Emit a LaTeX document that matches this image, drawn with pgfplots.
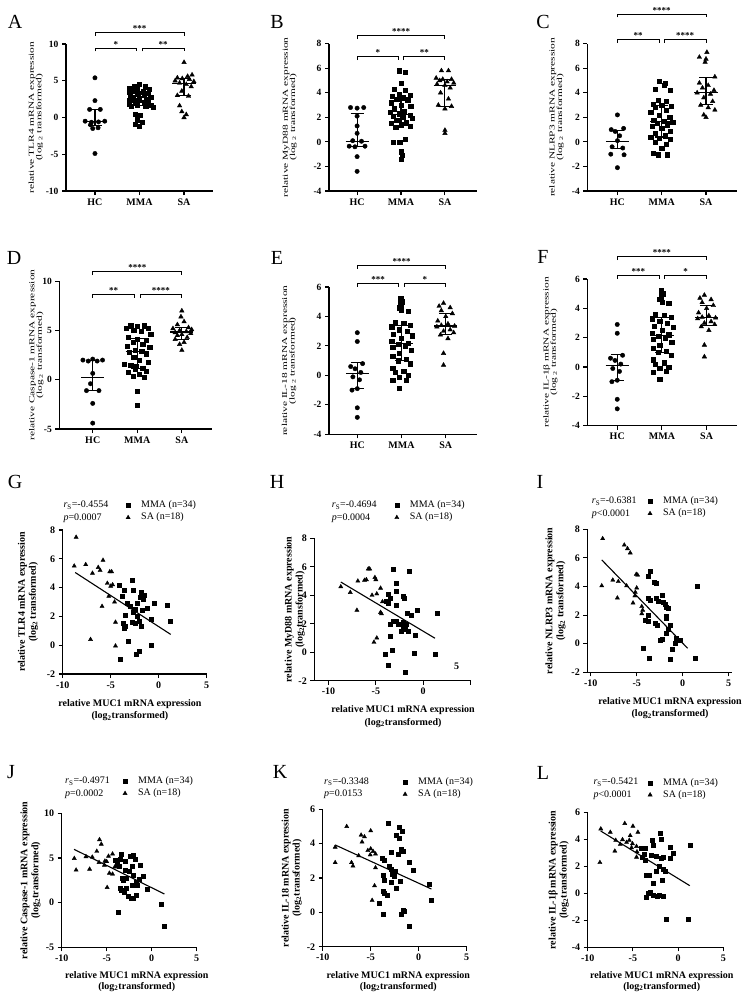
\documentclass[border=0pt]{standalone}
\usepackage{fontspec}
\setmainfont{Liberation Serif}
\usepackage{graphicx}
\usepackage{pgfplots}
\pgfplotsset{compat=1.18}

\newcommand{\iqr}[8]{\addplot[black,line width=1.1pt,no marks,unbounded coords=jump,forget plot] coordinates {(#1,#7)(#2,#7)(#4,nan)(#4,#6)(#4,#8)(#4,nan)(#3,#6)(#5,#6)(#4,nan)(#3,#8)(#5,#8)};}
\newcommand{\iqrHC}[3]{\iqr{0.74}{1.26}{0.85}{1}{1.15}{#1}{#2}{#3}}
\newcommand{\iqrMMA}[3]{\iqr{1.74}{2.26}{1.85}{2}{2.15}{#1}{#2}{#3}}
\newcommand{\iqrSA}[3]{\iqr{2.74}{3.26}{2.85}{3}{3.15}{#1}{#2}{#3}}
\newcommand{\sig}[5]{%
 \draw[line width=0.9pt] ([yshift=-3.5pt]axis cs:#1,#4) -- (axis cs:#1,#4) -- (axis cs:#2,#4) -- ([yshift=-3.5pt]axis cs:#2,#4);
 \node[above,inner sep=0.6pt,font=\bfseries\fontsize{9}{9}\selectfont] at (axis cs:#3,#4) {#5};}
\newcommand{\brackets}[5]{\sig{1}{1.94}{1.47}{#1}{#3}\sig{2.06}{3}{2.53}{#1}{#4}\sig{1}{3}{2}{#2}{#5}}
\newcommand{\dotlab}[1]{\scalebox{1.5}[1]{\fontsize{7.6}{7}\selectfont\begin{tabular}{@{}c@{}}relative #1 mRNA expression\\(log\,\textsubscript{2} transformed)\end{tabular}}}
\newcommand{\rsblock}[4]{\node[anchor=west,align=left,inner sep=0pt,font=\fontsize{10}{12.5}\selectfont] at (#1pt,-#2pt) {\textit{r}\textsubscript{S}=#3\\\textit{p}#4};}
\newcommand{\plab}[3]{\node[font=\fontsize{20}{20}\selectfont] at (#1pt,-#2pt) {#3};}

\pgfplotsset{
 common/.style={scale only axis, anchor=south west, axis lines=left,
  axis line style={line width=1.1pt,-}, tick style={line width=1.1pt,black},
  tick align=outside, major tick length=4pt, clip=false,
  /pgf/number format/assume math mode=true,
  ticklabel style={font=\bfseries\fontsize{9.5}{10}\selectfont}},
 dot/.style={common, xtick={1,2,3}, xticklabels={HC,MMA,SA},
  xticklabel style={font=\bfseries\fontsize{10}{10}\selectfont},
  ylabel style={anchor=center}},
 scat/.style={common, xtick={-10,-5,0,5},
  ticklabel style={font=\bfseries\fontsize{10}{10}\selectfont},
  legend cell align=left,
  legend image code/.code={\draw[##1] plot coordinates {(0pt,0pt)};},
  legend style={draw=none, fill=none, inner sep=0pt, outer sep=0pt, row sep=2.5pt, column sep=11pt,
   font=\fontsize{10}{10}\selectfont, nodes={inner sep=0pt, text height=7pt, text depth=2.5pt}, anchor=west},
  xlabel={relative MUC1 mRNA expression\\(log\textsubscript{2}transformed)},
  xlabel style={align=center, font=\bfseries\fontsize{10}{12.5}\selectfont, anchor=center},
  ylabel style={align=center, font=\bfseries\fontsize{10}{11}\selectfont, anchor=center}},
 hc/.style={only marks, mark=*, mark size=2.2, black},
 mma/.style={only marks, mark=square*, mark size=2.1, black},
 sa/.style={only marks, mark=triangle*, mark size=2.6, black},
 smma/.style={only marks, mark=square*, mark size=2, black},
 ssa/.style={only marks, mark=triangle*, mark size=2.4, black},
 reg/.style={black, line width=1.1pt, no marks, forget plot},
}

\begin{document}
\begin{tikzpicture}
\path[use as bounding box] (0,0) rectangle (744pt,-998pt);

% ---------------- A ----------------
\begin{axis}[dot, at={(66pt,-191pt)}, width=147pt, height=147pt, xmin=0.35, xmax=3.65, ymin=-10, ymax=10,
 ytick={-10,-5,0,5,10}, ylabel={\dotlab{TLR4}}, ylabel style={at={(axis description cs:-0.204,0.5)}}]
\addplot[hc] coordinates {(1.00,5.4)(1.00,2.3)(0.88,1.1)(1.12,1.1)(0.78,-0.5)(0.92,-0.65)(1.08,-0.6)(1.22,-0.5)(0.90,-1.0)(0.95,-1.5)(1.07,-1.4)(1.00,-4.9)};
\addplot[mma] coordinates {(2.00,4.5)(1.88,4.25)(2.12,4.2)(1.78,3.95)(1.95,3.85)(2.22,3.8)(1.85,3.6)(2.08,3.5)(1.76,3.4)(2.2,3.35)(1.96,3.2)(1.8,3.0)(2.1,3.05)(2.25,2.8)(1.86,2.7)(2.0,2.6)(2.15,2.5)(1.78,2.4)(1.98,2.3)(2.2,2.2)(1.9,2.0)(2.1,1.9)(1.76,1.8)(2.26,1.7)(1.95,1.65)(2.14,1.6)(1.82,1.5)(2.3,1.45)(1.9,0.5)(2.02,0.3)(1.95,-0.3)(2.06,-0.6)(1.9,-0.9)(2.0,-1.15)};
\addplot[sa] coordinates {(3.0,7.5)(3.18,5.8)(3.08,5.6)(2.85,5.4)(2.96,5.3)(3.12,5.2)(2.8,5.0)(3.22,4.9)(2.9,4.7)(3.05,4.5)(3.16,4.2)(2.95,3.6)(2.85,3.0)(3.1,2.9)(2.9,1.6)(2.95,0.8)(3.05,0.4)(3.0,0.0)};
\iqrHC{-1.1}{-0.6}{1.1}
\iqrMMA{1.6}{2.35}{3.5}
\iqrSA{2.95}{4.6}{5.3}
\brackets{9.46}{11.6}{*}{**}{***}
\end{axis}

% ---------------- B ----------------
\begin{axis}[dot, at={(329pt,-191pt)}, width=148pt, height=147.3pt, xmin=0.36, xmax=3.73, ymin=-4, ymax=8,
 ytick={-4,-2,0,2,4,6,8}, ylabel={\dotlab{MyD88}}, ylabel style={at={(axis description cs:-0.264,0.5)}}]
\addplot[hc] coordinates {(0.85,2.8)(1.0,2.75)(1.15,2.8)(1.0,2.1)(1.0,1.3)(1.0,0.7)(0.9,0.1)(1.1,0.05)(0.82,-0.35)(0.95,-0.4)(1.18,-0.35)(1.0,-1.2)(1.0,-2.4)};
\addplot[mma] coordinates {(1.95,5.8)(2.1,5.7)(2.0,4.8)(1.85,4.3)(2.1,4.2)(1.95,3.9)(2.2,3.8)(1.8,3.7)(2.05,3.6)(1.9,3.5)(2.15,3.4)(1.78,3.2)(2.0,3.0)(2.22,2.9)(1.85,2.7)(2.08,2.5)(1.75,2.4)(1.95,2.3)(2.2,2.2)(1.82,2.1)(2.05,2.0)(2.25,1.9)(1.9,1.8)(2.12,1.6)(1.78,1.5)(2.0,1.4)(2.2,1.3)(1.88,1.2)(2.1,0.2)(1.82,0.0)(1.97,-0.05)(2.0,-0.8)(2.02,-1.1)(2.0,-1.4)};
\addplot[sa] coordinates {(2.92,5.8)(3.08,5.8)(2.8,5.2)(2.95,5.1)(3.15,5.1)(2.88,5.0)(3.05,4.9)(3.2,4.8)(2.82,4.7)(3.0,4.6)(3.12,4.4)(2.9,4.0)(3.08,3.5)(2.85,3.0)(3.15,2.9)(3.0,2.7)(3.0,0.95)(3.0,0.7)};
\iqrHC{-0.35}{0.0}{2.3}
\iqrMMA{1.3}{2.2}{3.6}
\iqrSA{2.9}{4.6}{5.1}
\brackets{6.94}{8.65}{*}{**}{****}
\end{axis}

% ---------------- C ----------------
\begin{axis}[dot, at={(587.3pt,-191pt)}, width=149.7pt, height=147.3pt, xmin=0.32, xmax=3.7, ymin=-4, ymax=8,
 ytick={-4,-2,0,2,4,6,8}, ylabel={\dotlab{NLRP3}}, ylabel style={at={(axis description cs:-0.204,0.5)}}]
\addplot[hc] coordinates {(1.0,2.2)(0.86,1.0)(1.14,1.1)(0.95,0.85)(1.05,0.5)(1.0,0.1)(0.88,-0.4)(1.12,-0.5)(0.85,-1.0)(1.15,-1.05)(1.0,-2.1)};
\addplot[mma] coordinates {(1.95,4.95)(2.08,4.8)(2.05,4.6)(1.85,4.3)(2.2,4.2)(1.92,3.4)(2.1,3.3)(1.8,3.1)(2.0,3.0)(2.22,2.9)(1.85,2.8)(2.1,2.6)(1.75,2.4)(1.95,2.2)(2.18,2.0)(1.82,1.8)(2.05,1.7)(2.25,1.6)(1.9,1.55)(2.12,1.4)(1.78,1.3)(2.0,1.1)(2.2,0.9)(1.85,0.7)(2.08,0.5)(1.75,0.4)(1.95,0.3)(2.2,0.2)(1.85,0.0)(2.1,-0.2)(2.0,-0.5)(1.8,-0.95)(1.92,-1.05)(2.12,-1.05)};
\addplot[sa] coordinates {(3.02,7.3)(2.85,6.9)(3.0,6.75)(2.98,6.5)(3.2,5.3)(2.85,4.8)(3.05,4.6)(2.92,4.4)(3.18,4.2)(2.8,4.0)(3.1,3.9)(2.95,3.6)(3.15,3.3)(2.88,3.0)(3.05,2.8)(3.2,2.6)(2.95,2.2)(3.0,2.0)};
\iqrHC{-0.55}{0.05}{0.95}
\iqrMMA{0.4}{1.65}{2.95}
\iqrSA{3.05}{4.05}{5.25}
\brackets{8.36}{10.42}{**}{****}{****}
\end{axis}

% ---------------- D ----------------
\begin{axis}[dot, at={(59.3pt,-429pt)}, width=152.4pt, height=147.7pt, xmin=0.25, xmax=3.67, ymin=-5, ymax=10,
 ytick={-5,0,5,10}, ylabel={\dotlab{Caspase-1}}, ylabel style={at={(axis description cs:-0.15,0.5)}}]
\addplot[hc] coordinates {(0.78,2.0)(0.9,1.9)(1.0,2.1)(1.1,1.9)(1.22,2.0)(1.0,0.65)(0.95,-0.4)(0.86,-1.1)(1.14,-1.1)(1.0,-2.4)(1.0,-4.4)};
\addplot[mma] coordinates {(1.85,5.5)(2.0,5.4)(2.15,5.5)(1.75,5.2)(2.25,5.2)(1.92,5.0)(2.08,4.9)(2.3,4.6)(1.8,4.3)(2.0,4.15)(2.2,4.0)(1.9,3.8)(2.12,3.6)(1.78,3.4)(2.28,3.3)(1.95,3.0)(2.1,2.9)(1.82,2.8)(2.2,2.6)(1.7,1.6)(1.92,2.3)(2.05,2.0)(2.25,1.8)(1.85,1.5)(2.12,1.2)(1.95,1.1)(2.2,0.9)(1.8,0.8)(2.05,0.6)(1.9,0.4)(2.15,0.3)(2.0,-1.2)(2.0,-2.6)(1.98,1.35)};
\addplot[sa] coordinates {(3.0,7.0)(2.98,6.4)(3.05,5.9)(2.9,5.6)(3.15,5.3)(2.8,5.2)(3.22,5.1)(2.95,5.0)(3.1,4.9)(2.85,4.8)(3.2,4.7)(3.0,4.6)(2.9,4.5)(3.12,4.3)(2.85,4.1)(3.05,3.8)(2.95,3.6)(3.0,3.0)};
\iqrHC{-1.05}{0.2}{2.0}
\iqrMMA{1.15}{2.85}{4.15}
\iqrSA{4.05}{4.85}{5.3}
\brackets{8.68}{10.98}{**}{****}{****}
\end{axis}

% ---------------- E ----------------
\begin{axis}[dot, at={(329pt,-434.3pt)}, width=147.7pt, height=147.3pt, xmin=0.36, xmax=3.7, ymin=-4, ymax=6,
 ytick={-4,-2,0,2,4,6}, ylabel={\dotlab{IL-18}}, ylabel style={at={(axis description cs:-0.269,0.5)}}]
\addplot[hc] coordinates {(1.0,2.9)(1.0,2.3)(0.85,0.6)(1.12,0.8)(0.95,0.45)(1.08,0.2)(0.9,-0.1)(1.05,-0.3)(1.0,-0.9)(0.88,-1.0)(1.0,-2.2)(1.0,-2.85)};
\addplot[mma] coordinates {(1.98,5.2)(2.02,5.0)(1.98,4.8)(1.95,4.6)(2.0,4.4)(2.15,4.35)(1.85,3.6)(2.05,3.55)(2.2,3.4)(1.78,3.3)(1.95,3.1)(2.12,3.0)(1.82,2.8)(2.25,2.7)(2.0,2.5)(1.78,2.3)(2.15,2.2)(1.92,2.1)(2.08,2.0)(1.8,1.9)(2.22,1.7)(1.95,1.5)(1.8,1.3)(2.1,1.1)(1.92,1.0)(2.2,0.8)(1.8,0.5)(2.05,0.3)(1.85,0.2)(2.15,0.0)(1.95,-0.1)(2.1,-0.3)(1.8,-0.35)(1.95,-0.85)};
\addplot[sa] coordinates {(2.95,4.9)(2.85,4.7)(3.1,4.6)(2.9,4.4)(3.15,4.2)(3.0,4.0)(2.82,3.7)(3.05,3.5)(2.9,3.4)(3.2,3.35)(2.8,3.3)(3.1,3.1)(2.95,3.0)(3.18,2.9)(2.88,2.75)(3.05,2.5)(2.95,1.5)(2.95,0.7)};
\iqrHC{-0.9}{0.1}{0.85}
\iqrMMA{1.0}{2.15}{3.4}
\iqrSA{2.8}{3.35}{4.2}
\brackets{6.25}{7.49}{***}{*}{****}
\end{axis}

% ---------------- F ----------------
\begin{axis}[dot, at={(587.3pt,-425.7pt)}, width=149.7pt, height=146.7pt, xmin=0.33, xmax=3.68, ymin=-4, ymax=6,
 ytick={-4,-2,0,2,4,6}, ylabel={\dotlab{IL-1β}}, ylabel style={at={(axis description cs:-0.245,0.5)}}]
\addplot[hc] coordinates {(1.0,2.9)(1.0,2.3)(0.85,0.6)(1.12,0.8)(0.95,0.45)(1.08,0.2)(0.9,-0.1)(1.05,-0.3)(1.0,-0.9)(0.88,-1.0)(1.0,-2.2)(1.0,-2.85)};
\addplot[mma] coordinates {(1.98,5.2)(2.02,5.0)(1.98,4.8)(1.95,4.6)(2.0,4.4)(2.15,4.35)(1.85,3.6)(2.05,3.55)(2.2,3.4)(1.78,3.3)(1.95,3.1)(2.12,3.0)(1.82,2.8)(2.25,2.7)(2.0,2.5)(1.78,2.3)(2.15,2.2)(1.92,2.1)(2.08,2.0)(1.8,1.9)(2.22,1.7)(1.95,1.5)(1.8,1.3)(2.1,1.1)(1.92,1.0)(2.2,0.8)(1.8,0.5)(2.05,0.3)(1.85,0.2)(2.15,0.0)(1.95,-0.1)(2.1,-0.3)(1.8,-0.35)(1.95,-0.85)};
\addplot[sa] coordinates {(2.95,4.9)(2.85,4.7)(3.1,4.6)(2.9,4.4)(3.15,4.2)(3.0,4.0)(2.82,3.7)(3.05,3.5)(2.9,3.4)(3.2,3.35)(2.8,3.3)(3.1,3.1)(2.95,3.0)(3.18,2.9)(2.88,2.75)(3.05,2.5)(2.95,1.5)(2.95,0.7)};
\iqrHC{-0.9}{0.1}{0.85}
\iqrMMA{1.0}{2.15}{3.4}
\iqrSA{2.8}{3.35}{4.2}
\brackets{6.27}{7.52}{***}{*}{****}
\end{axis}

% ---------------- G ----------------
\begin{axis}[scat, at={(62.7pt,-674pt)}, width=144pt, height=144pt, xmin=-10, xmax=5, ymin=-2, ymax=8,
 ytick={-2,0,2,4,6,8}, ylabel={relative TLR4 mRNA expression\\(log\textsubscript{2} transformed)},
 ylabel style={at={(axis description cs:-0.241,0.5)}}, xlabel style={at={(axis description cs:0.467,-0.25)}},
 legend style={at={(axis description cs:0.44,1.128)}}]
\addplot[smma] coordinates {(-4.1,4.2)(-3.6,3.8)(-3.8,3.4)(-2.8,4.5)(-2.7,3.8)(-1.8,3.7)(-1.5,3.5)(-1.9,3.3)(-1.6,3.2)(-3.3,2.9)(-2.2,2.9)(-1.7,2.4)(-1.2,2.6)(-0.5,2.9)(0.9,2.8)(1.2,1.7)(-3.5,2.1)(-2.4,2.5)(-2.7,2.3)(-2.2,2.0)(-2.0,1.7)(-2.5,1.5)(-2.8,1.6)(-0.8,1.8)(-1.8,1.3)(-3.7,1.5)(-3.5,1.3)(-3.6,1.2)(-3.2,0.3)(-0.8,0.0)(-2.3,-0.6)(-2.0,-0.45)(-4.0,-1.0)(-3.0,2.7)};
\addlegendentry{MMA (n=34)}
\addplot[ssa] coordinates {(-8.6,7.5)(-8.8,5.5)(-7.6,5.6)(-5.8,5.9)(-6.3,5.4)(-6.1,5.2)(-6.9,5.0)(-5.1,5.1)(-4.9,5.1)(-5.35,4.3)(-5.0,4.1)(-4.8,4.2)(-5.2,3.4)(-4.6,3.0)(-5.9,2.7)(-4.5,1.6)(-4.5,-0.05)(-7.1,0.4)};
\addlegendentry{SA (n=18)}
\addplot[reg] coordinates {(-8.7,5.05)(1.25,0.75)};
\end{axis}

% ---------------- H ----------------
\begin{axis}[scat, at={(314.3pt,-680.7pt)}, width=156.2pt, height=142.4pt, xmin=-11.5, xmax=5, ymin=-2, ymax=8,
 xticklabels={{-10},{-5},{0},{}},
 ytick={-2,0,2,4,6,8}, ylabel={relative MyD88 mRNA expression\\(log\textsubscript{2}transformed)},
 ylabel style={at={(axis description cs:-0.125,0.5)}}, xlabel style={at={(axis description cs:0.568,-0.253)}},
 legend style={at={(axis description cs:0.515,1.188)}}]
\addplot[smma] coordinates {(-3.14,5.82)(-1.46,5.7)(-2.8,4.84)(-2.8,4.3)(-3.67,4.09)(-3.5,3.8)(-3.67,3.44)(-2.8,3.27)(-2.16,3.9)(-2.0,3.78)(-0.58,2.97)(-1.74,2.73)(-1.3,2.6)(-2.8,2.2)(-3.5,1.96)(-2.37,1.98)(-1.8,1.98)(-2.16,1.6)(-1.6,1.5)(-2.37,1.47)(-0.79,1.2)(-3.5,1.14)(-3.3,0.15)(-4.0,-0.13)(-0.93,-0.08)(1.25,-0.15)(1.53,2.73)(-3.67,-0.9)(-1.9,-1.37)(-3.9,3.6)(-3.2,2.2)(-2.6,2.0)(-1.9,1.8)(-2.1,2.1)};
\addlegendentry{MMA (n=34)}
\addplot[ssa] coordinates {(-8.7,4.6)(-7.7,4.2)(-7.0,2.95)(-6.9,5.0)(-6.2,5.05)(-6.0,5.1)(-5.8,5.85)(-5.65,5.85)(-5.1,5.25)(-5.0,5.1)(-5.4,4.0)(-4.9,4.1)(-4.5,4.5)(-4.5,2.8)(-4.4,2.7)(-5.2,0.7)(-4.9,1.0)(-4.3,3.55)};
\addlegendentry{SA (n=18)}
\addplot[reg] coordinates {(-8.7,4.93)(1.25,0.98)};
\end{axis}
\node[font=\bfseries\fontsize{10}{10}\selectfont] at (456.7pt,-666.7pt) {5};

% ---------------- I ----------------
\begin{axis}[scat, at={(587.3pt,-672.3pt)}, width=144.4pt, height=143pt, xmin=-10.37, xmax=5.33, ymin=-2, ymax=8,
 ytick={-2,0,2,4,6,8}, ylabel={relative NLRP3 mRNA expression\\(log\textsubscript{2} transformed)},
 ylabel style={at={(axis description cs:-0.22,0.5)}}, xlabel style={at={(axis description cs:0.573,-0.252)}},
 legend style={at={(axis description cs:0.42,1.152)}}]
\addplot[smma] coordinates {(-3.48,5.04)(-3.73,4.69)(-3.12,4.27)(-2.83,4.22)(-3.73,3.17)(-3.55,3.05)(-2.83,3.17)(-2.65,2.99)(-2.28,3.41)(-2.17,2.87)(-1.92,2.76)(-1.74,2.52)(-1.56,2.48)(-1.81,1.94)(-1.74,1.78)(-3.73,2.0)(-4.1,1.61)(-3.73,1.54)(-3.0,1.43)(-2.75,1.31)(-1.38,1.26)(-1.56,1.0)(-1.81,0.73)(-2.28,0.31)(-2.46,0.26)(-0.72,0.38)(-0.29,0.26)(-0.83,0.07)(-1.1,-0.4)(-4.28,-0.28)(-3.62,-0.98)(-1.38,-1.09)(1.34,-1.02)(1.6,4.04)};
\addlegendentry{MMA (n=34)}
\addplot[ssa] coordinates {(-8.7,7.35)(-6.35,6.9)(-6.0,6.65)(-5.7,6.35)(-8.8,4.05)(-7.6,4.45)(-7.0,4.35)(-7.1,3.2)(-6.1,4.05)(-5.05,4.85)(-4.9,4.8)(-5.0,3.9)(-5.2,3.35)(-5.4,2.85)(-4.45,2.6)(-4.45,2.1)(-5.15,3.6)(-4.35,2.35)};
\addlegendentry{SA (n=18)}
\addplot[reg] coordinates {(-8.8,5.86)(0.54,-0.32)};
\end{axis}

% ---------------- J ----------------
\begin{axis}[scat, at={(61.7pt,-947.3pt)}, width=135pt, height=134pt, xmin=-10, xmax=5, ymin=-5, ymax=10,
 ytick={-5,0,5,10}, ylabel={relative Caspase-1 mRNA expression\\(log\textsubscript{2}transformed)},
 ylabel style={at={(axis description cs:-0.231,0.5)}}, xlabel style={at={(axis description cs:0.556,-0.254)}, font=\bfseries\fontsize{10}{11}\selectfont},
 legend style={at={(axis description cs:0.454,1.193)}}]
\addplot[smma] coordinates {(-3.44,5.45)(-4.07,4.78)(-3.81,4.33)(-3.6,4.1)(-3.52,4.85)(-2.41,5.22)(-2.11,5.34)(-1.85,4.85)(-2.22,4.03)(-1.3,4.22)(-3.0,3.66)(-2.8,2.72)(-3.33,2.72)(-0.93,2.99)(-1.74,2.24)(-1.59,1.9)(-2.78,1.6)(-3.52,1.6)(-3.44,1.34)(-3.07,1.12)(-0.48,1.49)(-1.67,0.86)(-2.59,0.67)(-2.11,0.49)(-2.3,0.5)(1.11,-0.15)(-3.7,-1.12)(1.41,-2.61)(-2.48,3.47)(-2.04,3.1)(-2.96,4.59)(-1.37,2.61)(-2.22,1.98)(-3.15,2.46)};
\addlegendentry{MMA (n=34)}
\addplot[ssa] coordinates {(-5.8,7.05)(-5.6,6.55)(-6.1,5.75)(-7.3,5.15)(-8.6,4.95)(-8.4,3.65)(-6.9,3.75)(-6.6,5.1)(-5.85,4.5)(-5.25,4.2)(-5.0,4.6)(-4.8,5.2)(-4.35,5.45)(-4.7,3.3)(-4.95,1.7)(-4.1,4.0)(-4.35,3.2)(-5.2,4.65)};
\addlegendentry{SA (n=18)}
\addplot[reg] coordinates {(-8.63,5.97)(1.41,0.97)};
\end{axis}

% ---------------- K ----------------
\begin{axis}[scat, at={(322.7pt,-946.7pt)}, width=144pt, height=137.4pt, xmin=-10, xmax=5, ymin=-2, ymax=6,
 ytick={-2,0,2,4,6}, ylabel={relative IL-18 mRNA expression\\(log\textsubscript{2}transformed)},
 ylabel style={at={(axis description cs:-0.215,0.5)}}, xlabel style={at={(axis description cs:0.525,-0.253)}, font=\bfseries\fontsize{10}{11}\selectfont},
 legend style={at={(axis description cs:0.558,1.153)}}]
\addplot[smma] coordinates {(-3.2,5.18)(-2.06,4.93)(-1.71,4.74)(-2.33,4.47)(-1.99,4.31)(-1.81,3.67)(-1.57,3.59)(-2.16,3.38)(-2.86,3.53)(-3.8,3.15)(-3.55,3.01)(-3.1,2.66)(-2.86,2.52)(-2.4,2.37)(-1.01,2.95)(-0.59,2.43)(-2.51,2.08)(-1.92,1.83)(-3.73,2.17)(-3.55,1.88)(-2.86,1.75)(-2.33,1.4)(-3.73,1.26)(-3.55,1.11)(-3.28,1.01)(-4.08,0.56)(1.08,1.63)(1.32,0.72)(-3.73,-0.1)(-1.64,0.1)(-1.46,0.05)(-1.85,-0.12)(-1.01,-0.83)(-2.75,2.25)};
\addlegendentry{MMA (n=34)}
\addplot[ssa] coordinates {(-7.5,5.0)(-8.7,3.8)(-8.7,2.9)(-7.0,2.9)(-6.85,2.7)(-6.0,4.5)(-5.65,4.4)(-5.9,4.1)(-6.25,3.3)(-5.0,4.75)(-5.3,3.6)(-5.0,3.7)(-5.05,3.35)(-4.5,3.4)(-4.75,3.55)(-4.5,2.6)(-4.6,1.55)(-4.85,0.7)};
\addlegendentry{SA (n=18)}
\addplot[reg] coordinates {(-8.68,3.92)(1.32,1.36)};
\end{axis}

% ---------------- L ----------------
\begin{axis}[scat, at={(587.7pt,-947.3pt)}, width=135.6pt, height=134.6pt, xmin=-10, xmax=5, ymin=-4, ymax=6,
 ytick={-4,-2,0,2,4,6}, ylabel={relative IL-1β mRNA expression\\(log\textsubscript{2}transformed)},
 ylabel style={at={(axis description cs:-0.213,0.5)}}, xlabel style={at={(axis description cs:0.546,-0.253)}, font=\bfseries\fontsize{10}{11}\selectfont},
 legend style={at={(axis description cs:0.445,1.177)}}]
\addplot[smma] coordinates {(-3.95,2.73)(-3.8,2.9)(-4.06,3.35)(-3.69,3.35)(-3.62,2.44)(-1.85,4.02)(-1.96,4.51)(-2.84,3.97)(-2.77,3.6)(-2.4,2.78)(-1.85,2.61)(-1.66,2.73)(-0.85,3.43)(-0.55,2.98)(-0.92,2.61)(-3.5,1.37)(-3.21,1.37)(-2.47,1.67)(-2.1,1.99)(-1.66,1.79)(-1.4,1.62)(-2.77,0.75)(-1.73,0.95)(-3.14,0.08)(-2.77,-0.11)(-2.33,-0.19)(-2.1,-0.16)(-3.58,-0.31)(-1.66,-0.19)(-1.29,-1.92)(1.11,-1.92)(1.37,3.6)(-3.32,0.0)(-2.95,2.86)};
\addlegendentry{MMA (n=34)}
\addplot[ssa] coordinates {(-8.65,2.3)(-8.55,4.8)(-7.5,4.55)(-6.9,3.95)(-7.0,3.15)(-6.15,4.0)(-5.9,5.2)(-5.7,3.8)(-5.3,4.3)(-5.0,5.0)(-5.05,3.7)(-5.15,3.4)(-4.6,3.5)(-4.45,4.55)(-4.55,3.1)(-4.6,2.7)(-5.4,3.95)(-6.4,3.65)};
\addlegendentry{SA (n=18)}
\addplot[reg] coordinates {(-8.56,4.64)(1.29,0.58)};
\end{axis}

% r_S / p blocks
\rsblock{63.3}{511.5}{-0.4554}{=0.0007}
\rsblock{331.7}{511.5}{-0.4694}{=0.0004}
\rsblock{591.7}{507.5}{-0.6381}{<0.0001}
\rsblock{65}{787.5}{-0.4971}{=0.0002}
\rsblock{324}{788.3}{-0.3348}{=0.0153}
\rsblock{593.3}{788.9}{-0.5421}{<0.0001}

% panel letters
\plab{15}{22}{A}\plab{277}{22}{B}\plab{543}{22}{C}
\plab{14}{258}{D}\plab{277}{258}{E}\plab{543}{257}{F}
\plab{15}{482}{G}\plab{277}{482}{H}\plab{540}{482}{I}
\plab{11}{772}{J}\plab{280}{772}{K}\plab{543}{773}{L}
\end{tikzpicture}
\end{document}
